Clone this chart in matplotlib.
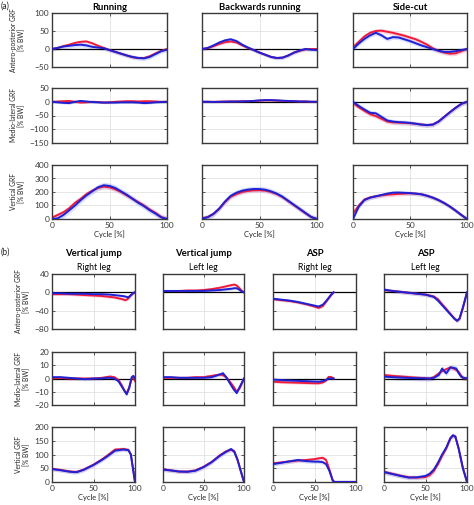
import numpy as np
import matplotlib
matplotlib.use('Agg')
import matplotlib.pyplot as plt

plt.rcParams['font.family'] = ['Lato', 'DejaVu Sans']

W, H = 474, 505

# ---------------- (a) running / backwards running / side-cut ----------------
cycle_a = [0, 5, 10, 15, 20, 25, 30, 35, 40, 45, 50, 55, 60, 65, 70, 75, 80, 85, 90, 95, 100]

run_ap_red = [0, 3, 8, 12, 17, 20, 21, 16, 9, 3, -3, -8, -13, -18, -23, -25, -25, -20, -12, -5, 0]
run_ap_blue = [0, 3, 7, 9, 11, 12, 10, 6, 4, 2, -3, -8, -13, -18, -22, -25, -26, -22, -14, -6, -2]
run_ml_red = [0, 1, 2, 3, 0, -3, -2, 0, -1, -3, -2, 0, 1, 2, 2, 1, 2, 2, 1, 0, 0]
run_ml_blue = [0, -2, -4, -5, 0, 3, 1, -1, -2, -3, -3, -3, -2, -2, -2, -3, -5, -4, -2, -1, 0]
run_v_red = [10, 30, 50, 80, 120, 150, 185, 210, 230, 240, 235, 220, 200, 175, 150, 125, 100, 70, 45, 15, 0]
run_v_blue = [0, 5, 30, 65, 100, 140, 175, 205, 235, 250, 245, 230, 205, 180, 150, 120, 95, 65, 40, 12, 0]

back_ap_red = [0, 2, 8, 14, 19, 21, 18, 10, 3, -3, -10, -16, -22, -25, -24, -18, -10, -5, -1, 0, 0]
back_ap_blue = [0, 3, 10, 18, 24, 27, 22, 12, 4, -3, -10, -16, -22, -25, -24, -18, -10, -4, 0, -2, -3]
back_ml_red = [0, 0, 0, 0, 1, 1, 1, 2, 2, 3, 4, 5, 5, 4, 3, 2, 2, 1, 1, 0, 0]
back_ml_blue = [0, 0, -1, 0, 0, 1, 1, 1, 2, 3, 5, 6, 6, 5, 4, 3, 2, 1, 1, 0, 0]
back_v_red = [5, 15, 38, 75, 125, 165, 185, 200, 208, 212, 213, 210, 200, 185, 162, 132, 102, 72, 42, 14, 0]
back_v_blue = [3, 13, 38, 78, 130, 172, 195, 210, 218, 222, 222, 217, 205, 188, 165, 135, 105, 75, 45, 15, 0]

cut_ap_red = [5, 20, 35, 45, 50, 51, 48, 45, 41, 37, 32, 27, 20, 12, 2, -5, -10, -13, -12, -6, 0]
cut_ap_blue = [0, 15, 28, 38, 45, 38, 28, 33, 32, 27, 22, 16, 10, 5, 0, -5, -8, -8, -6, -3, 0]
cut_ml_red = [-5, -20, -33, -45, -52, -62, -72, -75, -76, -77, -78, -80, -83, -85, -83, -72, -55, -38, -22, -8, 0]
cut_ml_blue = [0, -15, -28, -40, -42, -55, -68, -72, -74, -75, -77, -80, -83, -85, -83, -72, -55, -38, -22, -8, 0]
cut_v_red = [40, 100, 145, 160, 168, 175, 180, 183, 186, 188, 190, 188, 183, 172, 158, 140, 118, 92, 62, 30, 0]
cut_v_blue = [0, 90, 140, 158, 168, 178, 188, 195, 196, 194, 192, 188, 183, 172, 158, 140, 118, 92, 62, 30, 0]

# ---------------- (b) vertical jump / ASP ----------------
vjr_ap_x = [0, 10, 20, 30, 40, 50, 60, 70, 75, 80, 85, 88, 90, 92, 95, 98, 100]
vjr_ap_red = [-4, -4, -4, -5, -6, -7, -8, -10, -11, -13, -15, -17, -16, -13, -7, -2, 0]
vjr_ap_blue = [-2, -2, -3, -3, -3, -4, -4, -5, -6, -7, -8, -9, -10, -11, -6, -1, 0]
vjl_ap_x = [0, 10, 20, 30, 40, 50, 60, 70, 75, 80, 85, 88, 91, 94, 97, 100]
vjl_ap_red = [3, 3, 3, 4, 4, 5, 7, 10, 12, 14, 16, 17, 15, 10, 4, 0]
vjl_ap_blue = [3, 3, 3, 3, 3, 3, 4, 5, 6, 7, 8, 9, 9, 6, 2, 0]
aspr_ap_x = [0, 10, 20, 30, 40, 50, 55, 60, 65, 70, 73]
aspr_ap_red = [-15, -17, -19, -22, -26, -31, -34, -30, -18, -6, 0]
aspr_ap_blue = [-14, -16, -18, -21, -25, -29, -31, -27, -17, -5, 0]
aspl_ap_x = [0, 10, 20, 30, 40, 50, 60, 65, 70, 75, 80, 85, 88, 91, 95, 100]
aspl_ap_red = [5, 3, 1, -1, -3, -5, -9, -15, -26, -36, -47, -57, -62, -58, -35, 0]
aspl_ap_blue = [6, 3, 1, -1, -3, -5, -10, -18, -28, -38, -48, -58, -62, -57, -33, 0]

vjr_ml_x = [0, 10, 20, 30, 40, 50, 60, 65, 70, 75, 80, 84, 88, 90, 93, 96, 98, 100]
vjr_ml_red = [0, 0.5, 0, 0, 0, 0, 0.5, 1, 1.5, 1, -1, -5, -10, -11, -7, 0, 1, -2]
vjr_ml_blue = [1, 1, 0.5, 0, -0.5, 0, 0, 0.5, 0.5, 0, -2, -6, -10, -12, -7, 1, 2, 0]
vjl_ml_x = [0, 10, 20, 30, 40, 50, 60, 65, 70, 74, 78, 82, 87, 91, 95, 100]
vjl_ml_red = [0.5, 0.5, 0.5, 0.5, 1, 1, 2, 2.5, 3, 2.5, 1, -2, -6, -10, -7, 0]
vjl_ml_blue = [1, 1, 0.5, 0.5, 0.5, 0.5, 1, 2, 3, 4, 1, -3, -8, -11, -6, 0]
aspr_ml_x = [0, 10, 20, 30, 40, 50, 55, 60, 64, 67, 70, 73]
aspr_ml_red = [-2.4, -2.8, -3, -3.2, -3.4, -3.6, -3.6, -3, -1.5, 1.2, 1.2, 0]
aspr_ml_blue = [-0.8, -1.2, -1.5, -1.8, -2, -2.3, -2.4, -2, -1, 0, 0, 0]
aspl_ml_x = [0, 10, 23, 40, 55, 60, 66, 70, 75, 80, 84, 87, 90, 93, 96, 100]
aspl_ml_red = [2.6, 2, 1.4, 0.6, 0, 1, 3.9, 5.5, 7, 8.4, 7.5, 6.5, 5, 2, 0, 0]
aspl_ml_blue = [1.4, 1, 0.6, 0.2, 0, 0.5, 2.6, 7.5, 3.9, 8.4, 8, 7.5, 4, 1.4, 0.5, 0]

vjr_v_x = [0, 10, 20, 26, 30, 38, 50, 60, 66, 76, 86, 92, 95, 97, 100]
vjr_v_red = [48, 44, 39, 37, 37, 45, 63, 82, 95, 118, 120, 117, 100, 60, 0]
vjr_v_blue = [47, 43, 38, 36, 36, 44, 62, 80, 92, 114, 118, 116, 100, 60, 0]
vjl_v_x = [0, 10, 20, 30, 40, 50, 60, 70, 78, 84, 88, 92, 96, 100]
vjl_v_red = [46, 42, 38, 38, 42, 55, 73, 97, 112, 117, 112, 82, 40, 0]
vjl_v_blue = [45, 42, 38, 37, 41, 54, 72, 95, 110, 120, 110, 80, 40, 0]
aspr_v_x = [0, 10, 20, 30, 40, 50, 55, 60, 64, 68, 72, 74, 80, 100]
aspr_v_red = [68, 71, 75, 78, 80, 83, 86, 88, 80, 45, 5, 0, 0, 0]
aspr_v_blue = [65, 70, 75, 80, 76, 74, 74, 72, 65, 40, 5, 0, 0, 0]
aspl_v_x = [0, 10, 20, 30, 40, 50, 55, 60, 65, 70, 75, 80, 83, 86, 90, 95, 100]
aspl_v_red = [37, 30, 23, 17, 16, 18, 25, 40, 65, 95, 122, 158, 168, 165, 122, 52, 0]
aspl_v_blue = [36, 29, 22, 16, 17, 22, 30, 45, 70, 100, 125, 160, 170, 165, 120, 50, 0]

RED, BLUE = '#ee1c3a', '#2020d4'
RED_BAND, BLUE_BAND = '#f5a9bd', '#aabcf5'
SPINE = '#3a3a3a'


def box(l, r, t, b):
    return [l / W, 1 - b / H, (r - l) / W, (b - t) / H]


def panel(fig, rect, x, red, blue, sd, ylim, yticks, zero=True, ylab=False, xlab=False):
    ax = fig.add_axes(rect)
    x = np.asarray(x, float)
    red = np.asarray(red, float)
    blue = np.asarray(blue, float)
    ax.fill_between(x, red - sd[0], red + sd[0], color=RED_BAND, alpha=0.5, lw=0, zorder=1)
    ax.fill_between(x, blue - sd[1], blue + sd[1], color=BLUE_BAND, alpha=0.5, lw=0, zorder=1)
    if zero:
        ax.axhline(0, color='black', lw=0.9, zorder=1.5)
    ax.plot(x, red, color=RED, lw=1.4, zorder=2)
    ax.plot(x, blue, color=BLUE, lw=1.4, zorder=3)
    ax.set_xlim(0, 100)
    ax.set_ylim(*ylim)
    ax.set_xticks([0, 50, 100])
    ax.set_yticks(yticks)
    ax.grid(True, color='#dcdcdc', lw=0.5, zorder=0)
    ax.set_axisbelow(True)
    ax.tick_params(direction='in', length=2, width=0.6, colors=SPINE, labelsize=6.0,
                   top=True, right=True, pad=2)
    for s in ax.spines.values():
        s.set_color(SPINE)
        s.set_linewidth(1.0)
    if not ylab:
        ax.set_yticklabels([])
    if not xlab:
        ax.set_xticklabels([])
    else:
        ax.set_xlabel('Cycle [%]', fontsize=5.4, labelpad=1, color='#222222')
    return ax


fig = plt.figure(figsize=(W / 100, H / 100), dpi=100)

# (a) layout in pixels
cols_a = [(52, 167), (202, 317), (353, 467)]
rows_a = [(13, 67), (88, 143), (165, 219)]
data_a = [
    [(run_ap_red, run_ap_blue, (4, 6)), (back_ap_red, back_ap_blue, (4, 5)), (cut_ap_red, cut_ap_blue, (6, 6))],
    [(run_ml_red, run_ml_blue, (3, 4)), (back_ml_red, back_ml_blue, (3, 3)), (cut_ml_red, cut_ml_blue, (8, 8))],
    [(run_v_red, run_v_blue, (18, 22)), (back_v_red, back_v_blue, (16, 20)), (cut_v_red, cut_v_blue, (15, 15))],
]
ylims_a = [((-50, 100), [-50, 0, 50, 100]), ((-150, 50), [-150, -100, -50, 0, 50]), ((0, 400), [0, 100, 200, 300, 400])]
titles_a = ['Running', 'Backwards running', 'Side-cut']

for r, (t, b) in enumerate(rows_a):
    for c, (l, rr) in enumerate(cols_a):
        red, blue, sd = data_a[r][c]
        ax = panel(fig, box(l, rr, t, b), cycle_a, red, blue, sd, ylims_a[r][0], ylims_a[r][1],
                   zero=(r < 2), ylab=(c == 0), xlab=(r == 2))
        if r == 0:
            ax.set_title(titles_a[c], fontsize=6.8, fontweight='bold', pad=2.5)

# (b) layout in pixels
cols_b = [(52, 135), (163, 244), (273, 356), (384, 467)]
rows_b = [(274, 329), (352, 405), (427, 482)]
data_b = [
    [(vjr_ap_x, vjr_ap_red, vjr_ap_blue, (3, 3)), (vjl_ap_x, vjl_ap_red, vjl_ap_blue, (3, 3)),
     (aspr_ap_x, aspr_ap_red, aspr_ap_blue, (3, 3)), (aspl_ap_x, aspl_ap_red, aspl_ap_blue, (4, 4))],
    [(vjr_ml_x, vjr_ml_red, vjr_ml_blue, (1.2, 1.2)), (vjl_ml_x, vjl_ml_red, vjl_ml_blue, (1.2, 1.2)),
     (aspr_ml_x, aspr_ml_red, aspr_ml_blue, (1.0, 1.0)), (aspl_ml_x, aspl_ml_red, aspl_ml_blue, (1.5, 2.0))],
    [(vjr_v_x, vjr_v_red, vjr_v_blue, (7, 7)), (vjl_v_x, vjl_v_red, vjl_v_blue, (7, 7)),
     (aspr_v_x, aspr_v_red, aspr_v_blue, (7, 7)), (aspl_v_x, aspl_v_red, aspl_v_blue, (8, 8))],
]
ylims_b = [((-80, 40), [-80, -40, 0, 40]), ((-20, 20), [-20, -10, 0, 10, 20]), ((0, 200), [0, 50, 100, 150, 200])]
titles_b = [('Vertical jump', 'Right leg'), ('Vertical jump', 'Left leg'), ('ASP', 'Right leg'), ('ASP', 'Left leg')]

for r, (t, b) in enumerate(rows_b):
    for c, (l, rr) in enumerate(cols_b):
        x, red, blue, sd = data_b[r][c]
        ax = panel(fig, box(l, rr, t, b), x, red, blue, sd, ylims_b[r][0], ylims_b[r][1],
                   zero=(r < 2), ylab=(c == 0), xlab=(r == 2))
        if r == 0:
            ax.text(0.5, 1.0 + 20 / 55, titles_b[c][0], transform=ax.transAxes, ha='center', va='center',
                    fontsize=6.8, fontweight='bold')
            ax.text(0.5, 1.0 + 7 / 55, titles_b[c][1], transform=ax.transAxes, ha='center', va='center',
                    fontsize=6.3)

# y labels
ylabels = ['Antero-posterior GRF\n[% BW]', 'Medio-lateral GRF\n[% BW]', 'Vertical GRF\n[% BW]']
for (t, b), lab in zip(rows_a, ylabels):
    fig.text(18 / W, 1 - (t + b) / 2 / H, lab, rotation=90, ha='center', va='center',
             fontsize=4.8, linespacing=1.1, color='#222222')
for (t, b), lab in zip(rows_b, ylabels):
    fig.text(23 / W, 1 - (t + b) / 2 / H, lab, rotation=90, ha='center', va='center',
             fontsize=4.8, linespacing=1.1, color='#222222')

fig.text(1 / W, 1 - 6 / H, '(a)', fontsize=6.2, ha='left', va='center', color='#222222')
fig.text(1 / W, 1 - 252 / H, '(b)', fontsize=6.2, ha='left', va='center', color='#222222')

fig.savefig('out.png', dpi=100)
